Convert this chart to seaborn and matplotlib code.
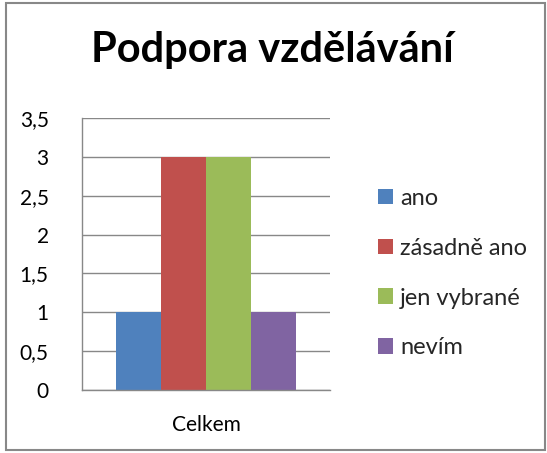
import matplotlib
matplotlib.use("Agg")
import matplotlib.pyplot as plt
import seaborn as sns
import pandas as pd
from matplotlib.patches import Rectangle

# data
category = ["Celkem"]
answers = ["ano", "zásadně ano", "jen vybrané", "nevím"]
counts = [1, 3, 3, 1]
colors = ["#4F81BD", "#C0504D", "#9BBB59", "#8064A2"]
yticks = [0, 0.5, 1, 1.5, 2, 2.5, 3, 3.5]
ytick_labels = ["0", "0,5", "1", "1,5", "2", "2,5", "3", "3,5"]

df = pd.DataFrame({
    "kategorie": category * len(answers),
    "odpoved": answers,
    "pocet": counts,
})

sns.set_theme(style="white")
plt.rcParams["font.family"] = ["Lato", "DejaVu Sans"]

fig = plt.figure(figsize=(5.47, 4.53), dpi=100)
ax = fig.add_axes([0.15, 0.139, 0.453, 0.6005])

sns.barplot(data=df, x="kategorie", y="pocet", hue="odpoved",
            hue_order=answers, palette=colors, width=0.73, gap=0,
            saturation=1, linewidth=0, ax=ax)

ax.set_ylim(0, 3.5)
ax.set_xlim(-0.5, 0.5)
ax.set_yticks(yticks)
ax.set_yticklabels(ytick_labels, fontsize=15)
ax.set_xticks([0])
ax.set_xticklabels(category, fontsize=15)
ax.yaxis.grid(True, color="#888888", linewidth=1)
ax.set_axisbelow(True)
ax.set_xlabel("")
ax.set_ylabel("")
ax.tick_params(axis="y", length=0, pad=24, labelcolor="black")
ax.tick_params(axis="x", length=0, pad=18, labelcolor="black")
for side in ["top", "right"]:
    ax.spines[side].set_visible(False)
for side in ["left", "bottom"]:
    ax.spines[side].set_color("#888888")
    ax.spines[side].set_linewidth(1)

handles, labels = ax.get_legend_handles_labels()
ax.get_legend().remove()
fig.legend(handles, labels, loc="center left", bbox_to_anchor=(0.691, 0.397),
           frameon=False, fontsize=17, handlelength=0.64, handleheight=0.64,
           handletextpad=0.3, labelspacing=1.22, borderpad=0, borderaxespad=0)

fig.text(0.498, 0.863, "Podpora vzdělávání", ha="center", va="baseline",
         fontsize=30, fontweight="bold", color="black")

# outer chart frame
fig.patches.append(Rectangle((6 / 547, 3 / 453), 539 / 547, 447 / 453,
                             transform=fig.transFigure, fill=False,
                             edgecolor="#888888", linewidth=1.5))

fig.savefig("out.png", dpi=100)
